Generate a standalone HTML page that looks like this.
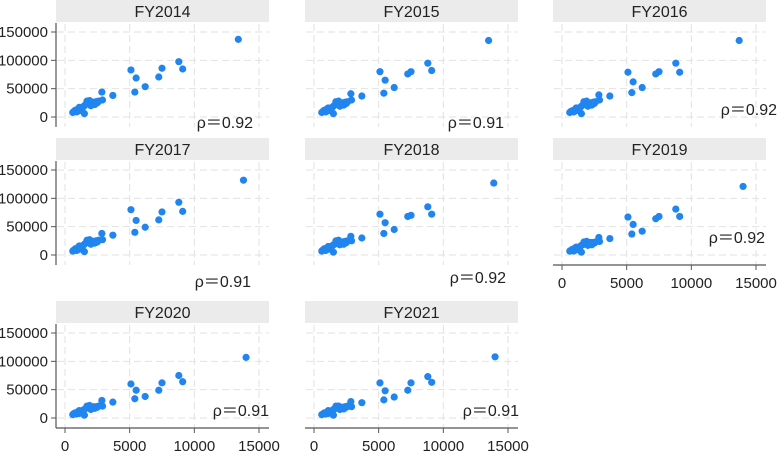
<!DOCTYPE html>
<html><head><meta charset="utf-8"><style>
html,body{margin:0;padding:0;background:#fff;}
svg{display:block;font-family:"Liberation Sans","Noto Sans CJK JP",sans-serif;}
</style></head><body>
<svg id="chart" width="777" height="451" viewBox="0 0 777 451" xmlns="http://www.w3.org/2000/svg"></svg>
<script>
const years = ["FY2014","FY2015","FY2016","FY2017","FY2018","FY2019","FY2020","FY2021"];
const rhoLabels = ["ρ＝0.92","ρ＝0.91","ρ＝0.92","ρ＝0.91","ρ＝0.92","ρ＝0.92","ρ＝0.91","ρ＝0.91"];
const xTicks = [0,5000,10000,15000];
const yTicks = [0,50000,100000,150000];
const topX = [13.4,13.5,13.7,13.8,13.9,14.0,14.0,14.0];
const xs = [13.7,8.8,7.5,9.1,5.1,5.5,7.25,6.2,5.4,2.85,3.7,2.9,
 0.6,0.7,0.8,0.9,1.0,1.1,1.2,1.3,1.4,1.5,1.5,1.6,1.7,1.8,1.9,2.0,2.1,2.2,2.3,2.4,2.5,2.6,1.3,1.1];
const y2014 = [137,97.6,86,84.7,83,68.8,70.6,53.5,44,44,38,30, 8,10,12,9,14,11,16,13,18,6,20,22,28,25,29,20,24,26,22,27,25,28,15,17];
const y2015 = [135,95,80,82,80,65,76,52,42,41,37,30, 8,10,12,9,14,11,15,13,17,6,19,21,27,24,28,19,23,25,21,26,24,27,14,16];
const y2016 = [135,95,80,79,79,62,76,52,43,39,37,30, 8,10,11,9,13,11,15,12,17,6,19,21,27,24,28,19,23,25,21,26,24,27,14,16];
const y2017 = [132,93,76,77,80,61,62,49,40,38,35,27, 7,9,11,8,13,10,15,12,17,6,19,21,26,23,27,19,22,24,21,25,23,26,14,16];
const y2018 = [127,85,70,72,72,57,68,45,38,33,30,25, 7,9,11,8,12,10,14,11,16,5,18,19,25,22,26,18,21,23,19,24,22,25,13,15];
const y2019 = [121,81,68,68,67,54,64,42,37,31,29,24, 7,8,10,7,12,9,13,11,15,5,17,18,23,21,24,17,20,22,18,22,21,23,12,14];
const y2020 = [107,75,62,64,60,49,49,38,34,31,28,21, 6,8,9,7,11,8,12,10,14,5,15,17,21,19,22,15,18,20,17,20,19,21,11,13];
const y2021 = [108,73,62,63,62,48,49,37,32,29,27,20, 6,7,9,7,10,8,12,10,13,5,15,16,21,18,21,15,18,19,16,20,19,21,11,13];
const yByYear = [y2014,y2015,y2016,y2017,y2018,y2019,y2020,y2021];

const NS="http://www.w3.org/2000/svg";
const svg=document.getElementById('chart');
function mk(tag,attrs,parent){const e=document.createElementNS(NS,tag);for(const k in attrs)e.setAttribute(k,attrs[k]);(parent||svg).appendChild(e);return e;}
const colX=[56,305,553], rowY=[0,138,301];
const rhoPos=[[253,128],[504,128],[777,115],[251,287],[506,283],[765,243],[269,416],[519,416]];
function xScale(c,v){return colX[c]+9+v/15000*194;}
function yScale(r,v){return rowY[r]+117-v/150000*85;}

years.forEach((yr,i)=>{
  const c=i%3, r=Math.floor(i/3);
  const x0=colX[c], top=rowY[r], W=213;
  const g=mk('g',{});
  
  
  const hd=mk('rect',{x:x0,y:top,width:W,height:22,fill:'#ebebeb'},g);
  
  
  const ht=mk('text',{x:x0+W/2,y:top+17,'text-anchor':'middle','font-size':16,fill:'#222'},g);
  ht.textContent=yr;
  
  
  yTicks.forEach(t=>{const y=yScale(r,t);
    const l=mk('line',{x1:x0+1,x2:x0+W,y1:y,y2:y,stroke:'#e2e2e2','stroke-dasharray':'7,4'},g);
    
    });
  xTicks.forEach(t=>{const x=xScale(c,t);
    const l=mk('line',{x1:x,x2:x,y1:top+24,y2:top+127,stroke:'#e2e2e2','stroke-dasharray':'7,4'},g);
    
    });
  if(c===0){
    const a=mk('line',{x1:x0,x2:x0,y1:top+23,y2:top+127,stroke:'#555','stroke-width':1.2},g);
    
    
    yTicks.forEach(t=>{const y=yScale(r,t);
      mk('line',{x1:x0-5,x2:x0,y1:y,y2:y,stroke:'#555'},g);
      const tl=mk('text',{x:x0-8,y:y+5,'text-anchor':'end','font-size':15,fill:'#222'},g);
      tl.textContent=String(t);
      
      });
  }
  if(r===2 || (r===1&&c===2)){
    const ay=top+127;
    const a=mk('line',{x1:x0,x2:x0+W,y1:ay,y2:ay,stroke:'#555','stroke-width':1.2},g);
    
    
    xTicks.forEach(t=>{const x=xScale(c,t);
      mk('line',{x1:x,x2:x,y1:ay,y2:ay+5,stroke:'#555'},g);
      const tl=mk('text',{x:x,y:ay+23,'text-anchor':'middle','font-size':15,fill:'#222'},g);
      tl.textContent=String(t);
      
      });
  }
  const ys=yByYear[i];
  xs.forEach((xv,j)=>{
    const xx = j===0 ? topX[i] : xv;
    const p=mk('circle',{cx:xScale(c,xx*1000),cy:yScale(r,ys[j]*1000),r:3.6,fill:'#2185f0'},g);
    
    
  });
  const rt=mk('text',{x:rhoPos[i][0],y:rhoPos[i][1],'text-anchor':'end','font-size':16,fill:'#222'},g);
  rt.textContent=rhoLabels[i];
  
  
});
</script>
</body></html>
